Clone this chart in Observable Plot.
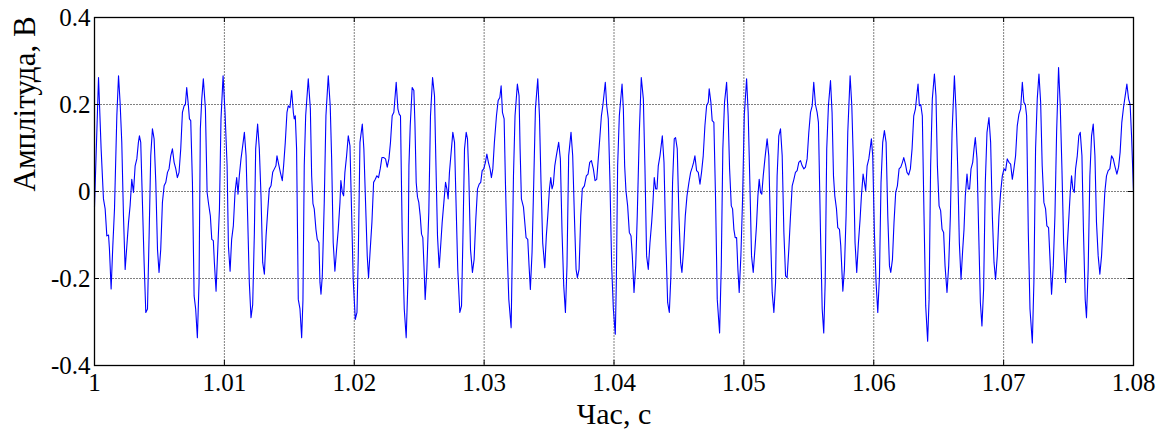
<!DOCTYPE html>
<html>
<head>
<meta charset="utf-8">
<script src="https://cdn.jsdelivr.net/npm/d3@7"></script>
<script src="https://cdn.jsdelivr.net/npm/@observablehq/plot@0.6"></script>
<style>
  html, body { margin: 0; padding: 0; background: #fff; }
  #chart svg { display: block; }
  #chart svg text { font-family: "Liberation Serif", "Times New Roman", serif !important; }
</style>
</head>
<body>
<div id="chart"></div>
<script>
// time offset from 1 s, in milliseconds
const timeMs = [
  0, 0.31, 0.51, 0.69, 0.82, 0.95, 1.08, 1.15, 1.28, 1.41,
  1.54, 1.72, 1.85, 1.97, 2.10, 2.23, 2.36, 2.49, 2.62, 2.74,
  2.87, 3.00, 3.13, 3.26, 3.38, 3.46, 3.56, 3.69, 3.82, 3.95,
  4.08, 4.21, 4.33, 4.46, 4.59, 4.72, 4.85, 4.97, 5.10, 5.23,
  5.36, 5.49, 5.62, 5.74, 5.87, 6.00, 6.13, 6.26, 6.38, 6.51,
  6.64, 6.77, 6.90, 7.00, 7.10, 7.23, 7.31, 7.41, 7.54, 7.67, 7.79, 7.92,
  8.05, 8.15, 8.26, 8.38, 8.54, 8.67, 8.79, 8.92, 9.03, 9.15,
  9.23, 9.36, 9.49, 9.62, 9.74, 9.90, 10.05, 10.21, 10.31, 10.44,
  10.56, 10.69, 10.82, 10.95, 11.05, 11.15, 11.28, 11.41, 11.54, 11.67,
  11.79, 11.92, 12.05, 12.18, 12.31, 12.41, 12.56, 12.69, 12.82, 12.95,
  13.08, 13.21, 13.33, 13.46, 13.59, 13.72, 13.85, 13.97, 14.05, 14.15,
  14.31, 14.46, 14.56, 14.69, 14.82, 14.92, 15.05, 15.18, 15.31, 15.38,
  15.46, 15.56, 15.69, 15.82, 15.95,
  16.05, 16.15, 16.26, 16.46, 16.62, 16.72, 16.82, 16.92, 17.05, 17.15,
  17.28, 17.36, 17.44, 17.54, 17.69, 17.82, 18.00, 18.15, 18.26, 18.38,
  18.51, 18.64, 18.77, 18.90, 18.97, 19.08, 19.18, 19.28, 19.41, 19.54,
  19.67, 19.79, 19.92, 20.08, 20.21, 20.31, 20.44, 20.62, 20.74, 20.87,
  21.00, 21.10, 21.23, 21.36, 21.49, 21.62, 21.74, 21.87, 22.00, 22.13,
  22.26, 22.41, 22.54, 22.67, 22.79, 22.92, 23.05, 23.23, 23.36, 23.46,
  23.56, 23.69, 23.85, 24.00,
  24.13, 24.21, 24.31, 24.46, 24.59, 24.67, 24.77, 24.87, 24.97, 25.08,
  25.18, 25.28, 25.38, 25.46, 25.59, 25.74, 25.87, 26.03, 26.18, 26.28,
  26.41, 26.54, 26.67, 26.77, 26.90, 27.03, 27.13, 27.23, 27.33, 27.46,
  27.59, 27.72, 27.85, 27.97, 28.13, 28.26, 28.36, 28.49, 28.62, 28.72,
  28.82, 28.95, 29.10, 29.23, 29.36, 29.49, 29.62, 29.74, 29.85, 29.97,
  30.10, 30.21, 30.33, 30.46, 30.56, 30.67, 30.79, 30.95, 31.08, 31.21,
  31.31, 31.41, 31.54, 31.64, 31.77, 31.90, 32.08,
  32.15, 32.26, 32.38, 32.56, 32.69, 32.77, 32.87, 33.03, 33.13, 33.23,
  33.36, 33.46, 33.56, 33.69, 33.82, 33.95, 34.13, 34.26, 34.38, 34.51,
  34.67, 34.79, 34.90, 35.03, 35.13, 35.23, 35.33, 35.44, 35.56, 35.74,
  35.87, 36.00, 36.13, 36.26, 36.38, 36.51, 36.69, 36.82, 36.95, 37.08,
  37.18, 37.31, 37.44, 37.56, 37.72, 37.87, 38.00, 38.13, 38.26, 38.41,
  38.54, 38.67, 38.79, 38.92, 39.03, 39.15, 39.33, 39.44, 39.56, 39.69,
  39.82, 39.95, 40.10,
  40.18, 40.28, 40.41, 40.62, 40.72, 40.82, 40.92, 41.05, 41.18, 41.31,
  41.41, 41.54, 41.67, 41.79, 41.95, 42.10, 42.26, 42.38, 42.51, 42.64,
  42.77, 42.90, 43.00, 43.10, 43.21, 43.31, 43.41, 43.54, 43.72, 43.85,
  43.97, 44.13, 44.26, 44.38, 44.51, 44.64, 44.74, 44.87, 45.00, 45.13,
  45.23, 45.36, 45.49, 45.62, 45.77, 45.90, 46.03, 46.13, 46.23, 46.36,
  46.49, 46.62, 46.74, 46.87, 47.00, 47.13, 47.26, 47.33, 47.46, 47.56,
  47.69, 47.82, 47.95, 48.13,
  48.26, 48.38, 48.51, 48.67, 48.79, 48.90, 49.03, 49.13, 49.23, 49.33,
  49.44, 49.54, 49.64, 49.77, 49.90, 50.03, 50.21, 50.33, 50.46, 50.59,
  50.72, 50.85, 50.97, 51.08, 51.18, 51.28, 51.38, 51.49, 51.62, 51.79,
  51.92, 52.05, 52.18, 52.31, 52.44, 52.56, 52.69, 52.82, 52.95, 53.08,
  53.21, 53.33, 53.46, 53.59, 53.72, 53.85, 53.97, 54.10, 54.23, 54.36,
  54.49, 54.62, 54.74, 54.87, 55.00, 55.13, 55.26, 55.38, 55.51, 55.64,
  55.74, 55.90, 56.03, 56.15,
  56.26, 56.38, 56.51, 56.67, 56.79, 56.90, 57.00, 57.13, 57.23, 57.36,
  57.46, 57.62, 57.74, 57.87, 58.00, 58.18, 58.31, 58.44, 58.56, 58.69,
  58.82, 58.95, 59.05, 59.18, 59.28, 59.38, 59.49, 59.62, 59.72, 59.82,
  59.92, 60.05, 60.18, 60.31, 60.44, 60.56, 60.69, 60.82, 60.95, 61.08,
  61.21, 61.31, 61.44, 61.56, 61.69, 61.82, 61.95, 62.08, 62.21, 62.31,
  62.44, 62.56, 62.69, 62.82, 62.95, 63.08, 63.21, 63.31, 63.41, 63.51,
  63.62, 63.74, 63.87, 64.00, 64.15,
  64.26, 64.38, 64.51, 64.67, 64.79, 64.90, 65.03, 65.15, 65.26, 65.38,
  65.49, 65.64, 65.77, 65.90, 66.03, 66.21, 66.33, 66.46, 66.59, 66.72,
  66.85, 66.95, 67.05, 67.18, 67.28, 67.38, 67.49, 67.62, 67.72, 67.82,
  67.95, 68.08, 68.21, 68.33, 68.46, 68.59, 68.72, 68.87, 69.00, 69.13,
  69.26, 69.38, 69.51, 69.64, 69.77, 69.90, 70.03, 70.15, 70.28, 70.41,
  70.54, 70.67, 70.79, 70.92, 71.05, 71.18, 71.31, 71.44, 71.56, 71.67,
  71.77, 71.90, 72.03, 72.21,
  72.33, 72.46, 72.59, 72.72, 72.85, 72.97, 73.10, 73.23, 73.33, 73.46,
  73.56, 73.69, 73.82, 73.95, 74.08, 74.23, 74.36, 74.49, 74.62, 74.77,
  74.90, 75.03, 75.13, 75.23, 75.33, 75.44, 75.54, 75.67, 75.79, 75.90,
  76.03, 76.15, 76.28, 76.38, 76.51, 76.64, 76.77, 76.90, 77.03, 77.15,
  77.28, 77.41, 77.54, 77.67, 77.79, 77.92, 78.05, 78.18, 78.31, 78.44,
  78.56, 78.72, 78.85, 78.97, 79.10, 79.23, 79.36, 79.49, 79.62, 79.74,
  79.85, 80.00
];

// amplitude, V
const amplitude = [
  -0.035, 0.262, 0.098, -0.017, -0.04, -0.102, -0.10, -0.132, -0.224, -0.125,
  -0.04, 0.174, 0.266, 0.205, 0.113, -0.056, -0.179, -0.125, -0.071, -0.033,
  0.028, -0.002, 0.059, 0.075, 0.113, 0.128, 0.113, -0.025, -0.163, -0.278,
  -0.27, -0.094, 0.082, 0.144, 0.121, 0.021, -0.133, -0.186, -0.133, -0.025,
  0.013, 0.021, 0.044, 0.052, 0.082, 0.098, 0.067, 0.052, 0.032, 0.044,
  0.098, 0.182, 0.197, 0.2, 0.239, 0.197, 0.167, 0.163, 0.021, -0.240, -0.27, -0.336,
  -0.209, 0.144, 0.213, 0.259, 0.190, -0.002, -0.03, -0.056, -0.110, -0.113,
  -0.163, -0.229, -0.133, -0.04, 0.167, 0.266, 0.182, 0.059, -0.125, -0.183,
  -0.110, -0.079, -0.002, 0.032, -0.006, 0.036, 0.075, 0.105, 0.136, 0.082,
  -0.056, -0.209, -0.290, -0.26, -0.094, 0.098, 0.155, 0.098, -0.010, -0.163,
  -0.190, -0.102, -0.048, 0.006, 0.013, 0.044, 0.052, 0.059, 0.082, 0.067,
  0.044, 0.025, 0.059, 0.113, 0.182, 0.197, 0.193, 0.232, 0.182, 0.167,
  0.174, 0.098, -0.248, -0.27, -0.336,
  -0.25, 0.059, 0.174, 0.259, 0.190, 0.036, -0.028, -0.04, -0.087, -0.110,
  -0.118, -0.209, -0.236, -0.194, -0.025, 0.174, 0.266, 0.197, 0.075, -0.118,
  -0.183, -0.133, -0.087, -0.025, 0.025, -0.002, -0.010, 0.044, 0.082, 0.128,
  0.105, -0.04, -0.202, -0.294, -0.278, -0.148, 0.113, 0.155, 0.098, -0.025,
  -0.148, -0.198, -0.133, -0.071, 0.021, 0.028, 0.036, 0.032, 0.052, 0.078,
  0.078, 0.075, 0.056, 0.075, 0.113, 0.174, 0.182, 0.251, 0.190, 0.178,
  0.174, -0.094, -0.27, -0.336,
  -0.209, 0.059, 0.151, 0.239, 0.232, 0.159, 0.021, -0.013, -0.025, -0.056,
  -0.098, -0.106, -0.179, -0.248, -0.179, -0.048, 0.174, 0.262, 0.22, 0.075,
  -0.102, -0.175, -0.118, -0.071, -0.025, 0.021, 0.006, -0.017, 0.044, 0.09,
  0.136, 0.113, -0.04, -0.179, -0.278, -0.263, -0.118, 0.098, 0.136, 0.121,
  0.036, -0.133, -0.186, -0.156, -0.063, 0.006, 0.017, 0.021, 0.048, 0.052,
  0.067, 0.086, 0.067, 0.052, 0.032, 0.052, 0.113, 0.174, 0.209, 0.216,
  0.243, 0.182, 0.167, 0.021, -0.133, -0.248, -0.313,
  -0.179, 0.036, 0.174, 0.247, 0.22, 0.098, -0.017, -0.036, -0.071, -0.106,
  -0.110, -0.171, -0.225, -0.14, 0.021, 0.190, 0.259, 0.174, 0.021, -0.118,
  -0.175, -0.102, -0.056, 0.006, 0.032, 0.006, 0.017, 0.059, 0.082, 0.113,
  0.075, -0.094, -0.217, -0.278, -0.171, 0.082, 0.136, 0.082, -0.056, -0.179,
  -0.198, -0.179, -0.056, 0.006, 0.013, 0.036, 0.040, 0.067, 0.071, 0.052,
  0.025, 0.028, 0.075, 0.128, 0.174, 0.2, 0.251, 0.197, 0.167, 0.021,
  -0.171, -0.27, -0.328,
  -0.209, 0.059, 0.174, 0.247, 0.190, 0.059, 0.002, -0.033, -0.094, -0.102,
  -0.148, -0.232, -0.171, -0.056, 0.136, 0.262, 0.213, 0.059, -0.148, -0.179,
  -0.118, -0.071, -0.025, 0.032, 0.006, 0.006, 0.059, 0.082, 0.128, 0.067,
  -0.094, -0.255, -0.278, -0.194, 0.021, 0.121, 0.124, 0.098, -0.056, -0.163,
  -0.186, -0.133, -0.056, -0.010, 0.021, 0.044, 0.056, 0.067, 0.082, 0.048,
  0.044, 0.017, 0.044, 0.082, 0.151, 0.197, 0.205, 0.236, 0.205, 0.163,
  0.159, -0.017, -0.248, -0.325,
  -0.171, 0.098, 0.205, 0.251, 0.174, 0.052, -0.033, -0.040, -0.087, -0.106,
  -0.106, -0.179, -0.232, -0.148, -0.017, 0.174, 0.259, 0.182, 0.021, -0.148,
  -0.186, -0.133, -0.079, -0.010, 0.028, -0.002, -0.006, 0.036, 0.075, 0.121,
  0.082, -0.094, -0.232, -0.278, -0.209, 0.036, 0.128, 0.144, 0.082, -0.094,
  -0.194, -0.198, -0.133, -0.056, 0.013, 0.028, 0.044, 0.048, 0.067, 0.071,
  0.059, 0.052, 0.056, 0.075, 0.136, 0.182, 0.197, 0.251, 0.2, 0.182,
  0.159, -0.094, -0.27, -0.325,
  -0.209, 0.098, 0.197, 0.255, 0.182, 0.036, -0.010, -0.040, -0.083, -0.087,
  -0.125, -0.229, -0.179, -0.056, 0.136, 0.266, 0.197, 0.059, -0.118, -0.186,
  -0.118, -0.063, -0.010, 0.040, 0.021, 0.002, 0.059, 0.075, 0.098, 0.121,
  0.082, -0.094, -0.209, -0.278, -0.194, 0.021, 0.113, 0.140, 0.113, -0.056,
  -0.171, -0.186, -0.156, -0.071, -0.002, 0.013, 0.052, 0.056, 0.067, 0.078,
  0.063, 0.044, 0.038, 0.052, 0.098, 0.174, 0.190, 0.22, 0.247, 0.197,
  0.2, 0.174, -0.056, -0.263, -0.344,
  -0.248, 0.059, 0.213, 0.270, 0.22, 0.059, -0.033, -0.044, -0.087, -0.094,
  -0.171, -0.232, -0.171, -0.056, 0.136, 0.266, 0.190, 0.059, -0.118, -0.202,
  -0.133, -0.087, -0.010, 0.040, 0.006, 0.006, 0.052, 0.067, 0.098, 0.124,
  0.075, -0.094, -0.255, -0.309, -0.224, 0.021, 0.136, 0.170, 0.113, -0.056,
  -0.163, -0.202, -0.148, -0.056, -0.002, 0.036, 0.052, 0.048, 0.075, 0.067,
  0.063, 0.028, 0.052, 0.082, 0.151, 0.178, 0.190, 0.251, 0.205, 0.2,
  0.174, -0.094, -0.27, -0.348,
  -0.209, 0.098, 0.213, 0.270, 0.205, 0.059, -0.025, -0.040, -0.079, -0.083,
  -0.148, -0.236, -0.171, -0.056, 0.136, 0.285, 0.197, 0.052, -0.118, -0.209,
  -0.125, -0.056, -0.002, 0.036, 0.006, -0.002, 0.052, 0.082, 0.128, 0.136,
  0.082, -0.094, -0.248, -0.290, -0.179, 0.036, 0.128, 0.155, 0.082, -0.071,
  -0.148, -0.190, -0.148, -0.071, -0.002, 0.036, 0.048, 0.052, 0.082, 0.075,
  0.059, 0.040, 0.056, 0.09, 0.159, 0.193, 0.22, 0.247, 0.213, 0.2,
  0.128, 0.0
];

const xTicks = [1, 1.01, 1.02, 1.03, 1.04, 1.05, 1.06, 1.07, 1.08];
const xTickLabels = ["1", "1.01", "1.02", "1.03", "1.04", "1.05", "1.06", "1.07", "1.08"];
const yTicks = [-0.4, -0.2, 0, 0.2, 0.4];
const yTickLabels = ["-0.4", "-0.2", "0", "0.2", "0.4"];
const xLabel = "Час, с";
const yLabel = "Амплітуда, В";

const n = Math.min(timeMs.length, amplitude.length);
const signal = d3.range(n).map(i => ({t: 1 + timeMs[i] / 1000, v: amplitude[i]}));

const W = 1169, H = 434;
const mL = 94, mR = 36, mT = 17, mB = 69;
const frameW = W - mL - mR, frameH = H - mT - mB;
const tickLen = 5;
const font = "Liberation Serif";

const chart = Plot.plot({
  width: W,
  height: H,
  marginLeft: mL,
  marginRight: mR,
  marginTop: mT,
  marginBottom: mB,
  style: {fontFamily: font, background: "#fff", overflow: "visible"},
  x: {domain: [1, 1.08], axis: null},
  y: {domain: [-0.4, 0.4], axis: null},
  marks: [
    Plot.ruleX(xTicks, {stroke: "#808080", strokeWidth: 1, strokeDasharray: "2,1"}),
    Plot.ruleY(yTicks, {stroke: "#808080", strokeWidth: 1, strokeDasharray: "2,1"}),
    Plot.line(signal, {x: "t", y: "v", stroke: "#0000ff", strokeWidth: 1.1}),
    Plot.ruleX(xTicks, {stroke: "#000", insetTop: frameH - tickLen}),
    Plot.ruleX(xTicks, {stroke: "#000", insetBottom: frameH - tickLen}),
    Plot.ruleY(yTicks, {stroke: "#000", insetRight: frameW - tickLen}),
    Plot.ruleY(yTicks, {stroke: "#000", insetLeft: frameW - tickLen}),
    Plot.frame({stroke: "#000", strokeWidth: 1.3}),
    Plot.text(xTicks, {x: d => d, text: (d, i) => xTickLabels[i], frameAnchor: "bottom",
      lineAnchor: "top", dy: 8, fontSize: 25, fontFamily: font, fill: "#000"}),
    Plot.text(yTicks, {y: d => d, text: (d, i) => yTickLabels[i], frameAnchor: "left",
      textAnchor: "end", lineAnchor: "middle", dx: -4, fontSize: 25, fontFamily: font, fill: "#000"}),
    Plot.text([xLabel], {frameAnchor: "bottom", lineAnchor: "middle", dy: 49,
      fontSize: 30, fontFamily: font, fill: "#000"}),
    Plot.text([yLabel], {frameAnchor: "left", rotate: -90, lineAnchor: "middle", dx: -69,
      fontSize: 31, fontFamily: font, fill: "#000"})
  ]
});

document.getElementById("chart").appendChild(chart);
</script>
</body>
</html>
